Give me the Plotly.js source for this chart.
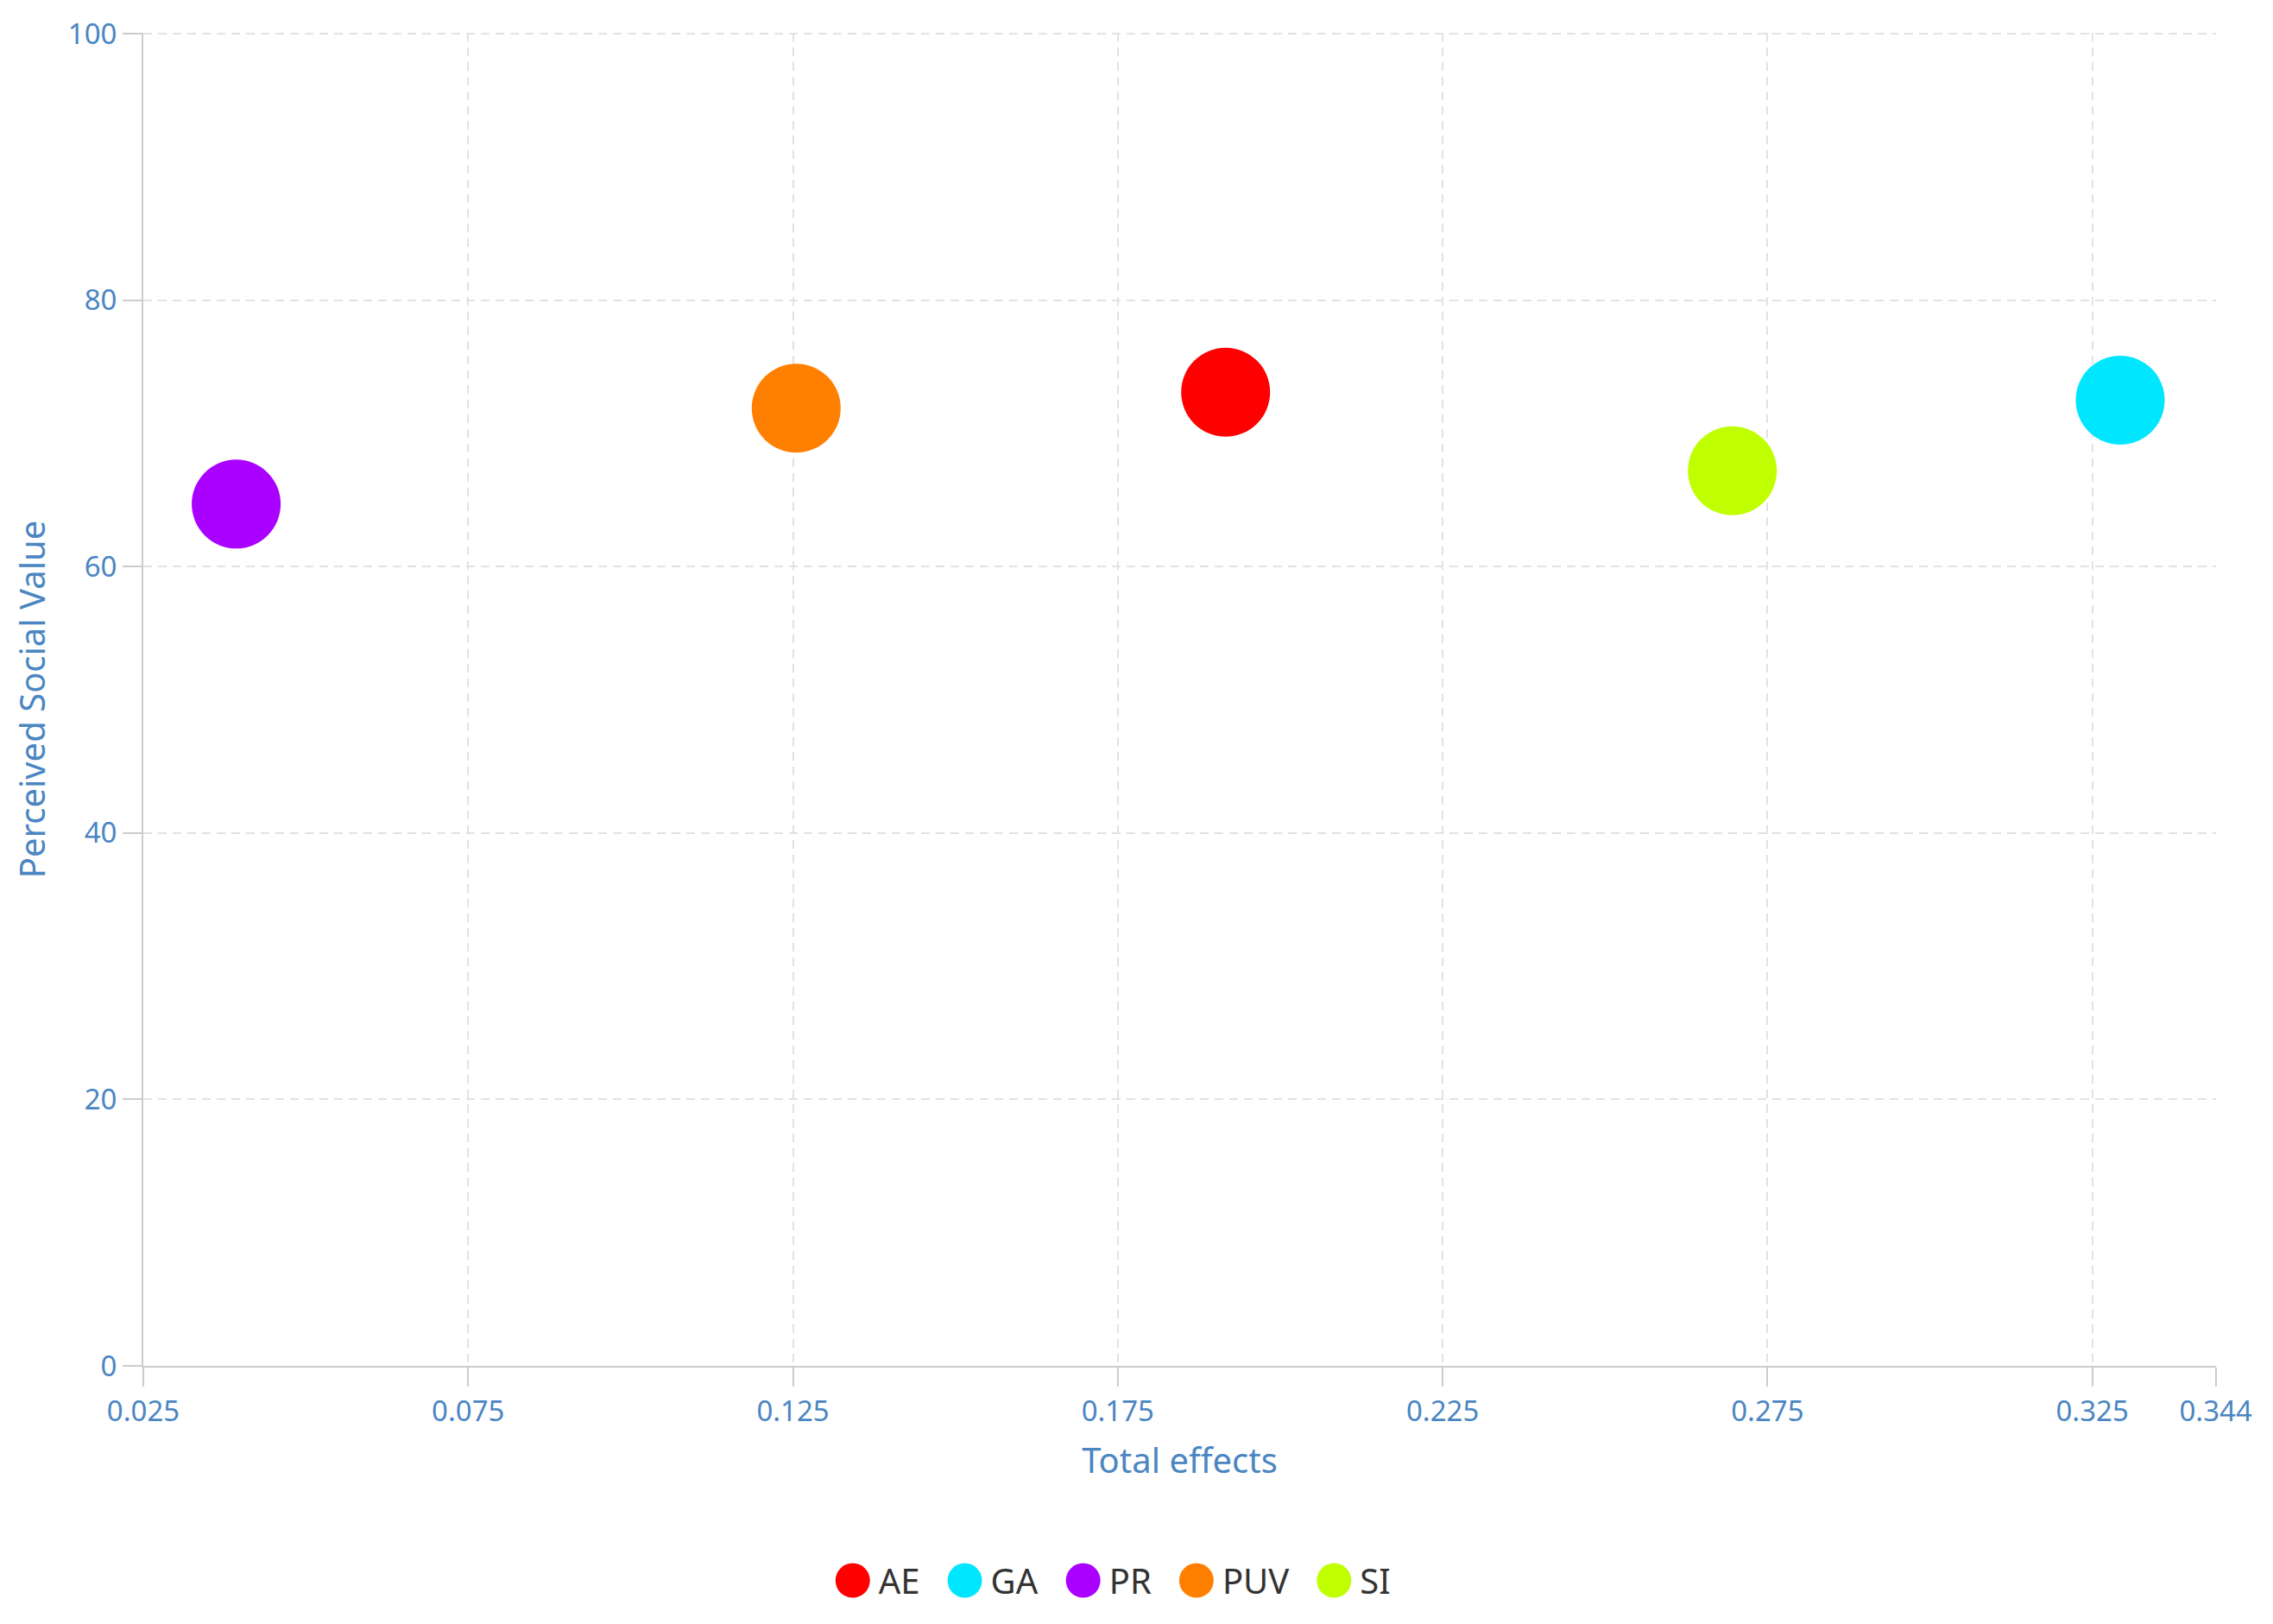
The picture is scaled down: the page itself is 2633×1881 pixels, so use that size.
<!DOCTYPE html>
<html>
<head>
<meta charset="utf-8">
<script src="https://cdn.plot.ly/plotly-3.0.1.min.js"></script>
<style>
  html, body { margin: 0; padding: 0; background: #fff; }
  #plot { width: 2633px; height: 1881px; }
</style>
</head>
<body>
<div id="plot"></div>
<script>
// factors and their values
const names = ['AE', 'GA', 'PR', 'PUV', 'SI'];
const totalEffects = [0.1916, 0.3293, 0.0393, 0.1255, 0.2696];
const socialValue = [73.1, 72.5, 64.7, 71.9, 67.2];
const colors = ['#ff0000', '#00e6ff', '#aa00ff', '#ff8000', '#c0ff00'];

const xTicks = [0.025, 0.075, 0.125, 0.175, 0.225, 0.275, 0.325, 0.344];
const yTicks = [0, 20, 40, 60, 80, 100];

const blue = '#4a86c2';
const font = 'Noto Sans, Open Sans, sans-serif';

const traces = names.map((n, i) => ({
    x: [totalEffects[i]],
    y: [socialValue[i]],
    name: n,
    mode: 'markers',
    type: 'scatter',
    marker: { size: 103, color: colors[i], line: { width: 0 } },
    hoverinfo: 'none'
}));

const layout = {
    width: 2633,
    height: 1881,
    margin: { l: 166, r: 66, t: 38, b: 299 },
    paper_bgcolor: '#fff',
    plot_bgcolor: '#fff',
    font: { family: font, color: blue, size: 33 },
    showlegend: true,
    legend: {
        orientation: 'h',
        x: 0.467, xanchor: 'center',
        y: -0.161, yanchor: 'middle',
        font: { size: 40, color: '#333' },
        itemwidth: 50,
        itemclick: false
    },
    xaxis: {
        // tiny overshoot so the dashed grid at 0.344 is still drawn
        range: [0.025, 0.34405],
        tickvals: xTicks,
        ticktext: xTicks.map(String),
        ticks: 'outside', ticklen: 22, tickwidth: 2, tickcolor: '#cccccc',
        showline: true, linecolor: '#cccccc', linewidth: 2,
        showgrid: true, gridcolor: '#e2e2e2', gridwidth: 2, griddash: '10px,7px',
        zeroline: false,
        tickfont: { size: 33, color: blue },
        title: { text: 'Total effects', font: { size: 40, color: blue }, standoff: 23 },
        automargin: false,
        fixedrange: true
    },
    yaxis: {
        range: [0, 100.08],
        tickvals: yTicks,
        ticks: 'outside', ticklen: 22, tickwidth: 2, tickcolor: '#cccccc',
        showline: true, linecolor: '#cccccc', linewidth: 2,
        showgrid: true, gridcolor: '#e2e2e2', gridwidth: 2, griddash: '10px,7px',
        zeroline: false,
        tickfont: { size: 33, color: blue },
        title: { text: 'Perceived Social Value', font: { size: 40, color: blue }, standoff: 14 },
        automargin: false,
        fixedrange: true
    }
};

Plotly.newPlot('plot', traces, layout, { displayModeBar: false, staticPlot: true }).then(() => {
    const leg = document.querySelector('.legend');
    // plotly caps legend symbols at 16px, enlarge them to match the chart
    const r = 20;
    leg.querySelectorAll('.legendpoints path.scatterpts').forEach(p => {
        p.setAttribute('d', `M${r},0A${r},${r} 0 1,1 0,-${r}A${r},${r} 0 0,1 ${r},0Z`);
    });
    // wider gaps between legend entries
    const gap = 17;
    const items = leg.querySelectorAll('.traces');
    items.forEach((g, i) => {
        const m = /translate\(([-\d.]+),\s*([-\d.]+)\)/.exec(g.getAttribute('transform'));
        if (m) g.setAttribute('transform', `translate(${+m[1] + gap * i},${m[2]})`);
    });
    leg.querySelectorAll('[clip-path]').forEach(e => e.removeAttribute('clip-path'));
    const lm = /translate\(([-\d.]+),\s*([-\d.]+)\)/.exec(leg.getAttribute('transform'));
    if (lm) leg.setAttribute('transform', `translate(${+lm[1] - gap * (items.length - 1) / 2},${lm[2]})`);
});
</script>
</body>
</html>
